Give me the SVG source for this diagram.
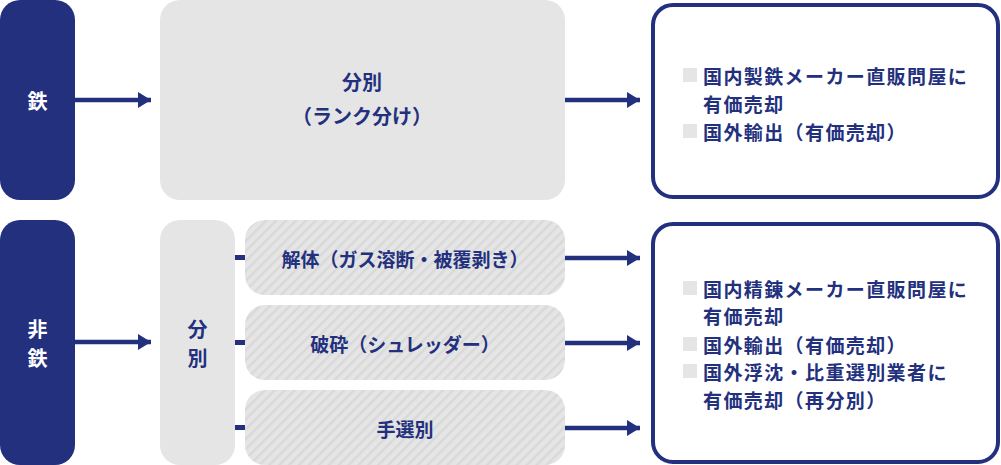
<svg xmlns="http://www.w3.org/2000/svg" width="1001" height="465" viewBox="0 0 1001 465">
<style>
.navy{fill:#22307e}
.gray{fill:#e5e5e5}
.t{font-family:"Noto Sans CJK JP","Noto Sans",sans-serif;font-weight:bold;fill:#22307e;text-anchor:middle;dominant-baseline:central}
.w{fill:#ffffff}
.l{font-family:"Noto Sans CJK JP","Noto Sans",sans-serif;font-weight:bold;fill:#22307e;font-size:19px;letter-spacing:1.4px;dominant-baseline:central}
.out{fill:#ffffff;stroke:#22307e;stroke-width:4}
.conn{stroke:#22307e;stroke-width:4.5;fill:none}
.sq{fill:#e5e5e5}
</style>
<defs>
<pattern id="hatch" patternUnits="userSpaceOnUse" width="7" height="7" patternTransform="rotate(45)">
<rect width="7" height="7" fill="#e5e5e5"/>
<rect width="2.5" height="7" fill="#d9d9d9"/>
</pattern>
<marker id="ah" markerWidth="13" markerHeight="16" refX="13" refY="8" orient="auto" markerUnits="userSpaceOnUse">
<path d="M0,0 L13,8 L0,16 Z" fill="#22307e"/>
</marker>
</defs>
<g id="connectors">
<line class="conn" x1="75" y1="100" x2="151" y2="100" marker-end="url(#ah)"/>
<line class="conn" x1="565" y1="100" x2="640" y2="100" marker-end="url(#ah)"/>
<line class="conn" x1="75" y1="342" x2="151" y2="342" marker-end="url(#ah)"/>
<rect class="navy" x="235" y="255" width="10" height="5"/>
<rect class="navy" x="235" y="340" width="10" height="5"/>
<rect class="navy" x="235" y="425" width="10" height="5"/>
<line class="conn" x1="565" y1="258" x2="640" y2="258" marker-end="url(#ah)"/>
<line class="conn" x1="565" y1="343" x2="640" y2="343" marker-end="url(#ah)"/>
<line class="conn" x1="565" y1="428" x2="640" y2="428" marker-end="url(#ah)"/>
</g>
<g id="iron">
<rect class="navy" x="0" y="0" width="75" height="200" rx="20"/>
<text class="t w" x="37.5" y="100" font-size="20">鉄</text>
</g>
<g id="sort-top">
<rect class="gray" x="160" y="0" width="405" height="200" rx="20"/>
<text class="t" x="362" y="81" font-size="20">分別</text>
<text class="t" x="362" y="115" font-size="20">（ランク分け）</text>
</g>
<g id="out-top">
<rect class="out" x="653" y="5" width="345" height="192" rx="20"/>
<rect class="sq" x="683" y="68" width="14" height="14"/>
<text class="l" x="703" y="75">国内製鉄メーカー直販問屋に</text>
<text class="l" x="703" y="103">有価売却</text>
<rect class="sq" x="683" y="124" width="14" height="14"/>
<text class="l" x="703" y="131">国外輸出（有価売却）</text>
</g>
<g id="nonferrous">
<rect class="navy" x="0" y="220" width="75" height="245" rx="20"/>
<text class="t w" x="37.5" y="328" font-size="20">非</text>
<text class="t w" x="37.5" y="357" font-size="20">鉄</text>
</g>
<g id="sort-bottom">
<rect class="gray" x="160" y="220" width="75" height="245" rx="20"/>
<text class="t" x="197.5" y="328" font-size="20">分</text>
<text class="t" x="197.5" y="357" font-size="20">別</text>
</g>
<g id="dismantle">
<rect x="245" y="220" width="320" height="75" rx="20" fill="url(#hatch)"/>
<text class="t" x="405" y="258" font-size="19">解体（ガス溶断・被覆剥き）</text>
</g>
<g id="crush">
<rect x="245" y="305" width="320" height="75" rx="20" fill="url(#hatch)"/>
<text class="t" x="405" y="343" font-size="19">破砕（シュレッダー）</text>
</g>
<g id="handsort">
<rect x="245" y="390" width="320" height="75" rx="20" fill="url(#hatch)"/>
<text class="t" x="405" y="428" font-size="19">手選別</text>
</g>
<g id="out-bottom">
<rect class="out" x="653" y="224" width="345" height="238" rx="20"/>
<rect class="sq" x="683" y="281" width="14" height="14"/>
<text class="l" x="703" y="288">国内精錬メーカー直販問屋に</text>
<text class="l" x="703" y="315">有価売却</text>
<rect class="sq" x="683" y="337" width="14" height="14"/>
<text class="l" x="703" y="344">国外輸出（有価売却）</text>
<rect class="sq" x="683" y="364" width="14" height="14"/>
<text class="l" x="703" y="371">国外浮沈・比重選別業者に</text>
<text class="l" x="703" y="399">有価売却（再分別）</text>
</g>
</svg>
